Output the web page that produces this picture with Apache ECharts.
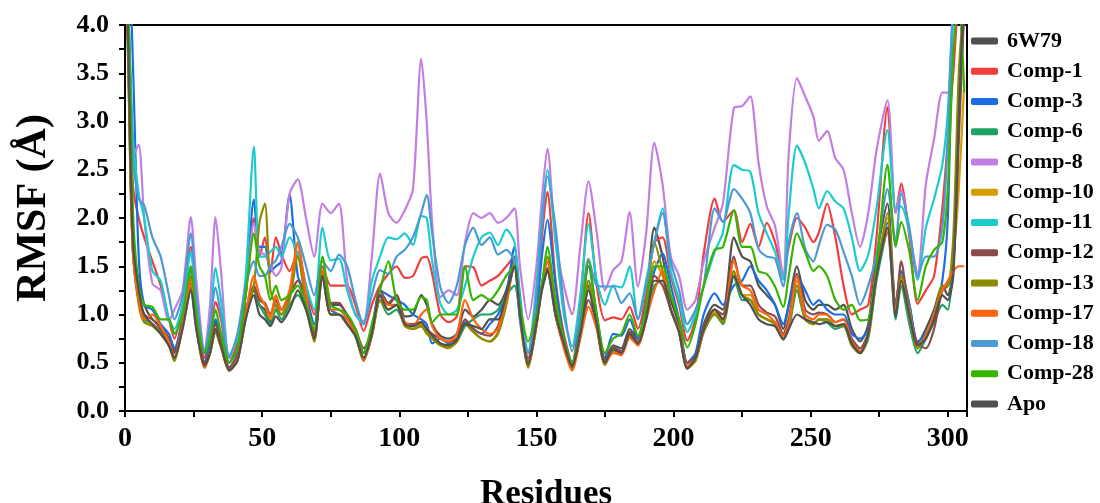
<!DOCTYPE html>
<html><head><meta charset="utf-8">
<script src="https://cdn.jsdelivr.net/npm/echarts@6/dist/echarts.min.js"></script>
<style>html,body{margin:0;padding:0;background:#fff}#c{width:1100px;height:503px}</style>
</head><body><div id="c"></div>
<script>
const residues = [0,1,2,3,5,7,10,13,16,18,
21,24,26,29,31,33,35,38,41,44,
47,49,51,53,55,57,60,63,66,69,
72,75,78,81,84,87,90,93,96,99,
102,105,108,110,112,115,118,121,124,127,
130,133,136,139,142,144,147,150,152,154,
157,160,163,166,169,172,175,178,181,184,
187,190,193,196,199,202,205,208,211,215,
218,222,225,228,231,234,237,240,242,245,
248,251,253,256,259,262,265,268,271,274,
278,281,283,286,289,292,295,298,300,302,
304,306];

const w6W79 = [4.5,4.0,2.6,1.7,1.35,1.1,0.95,0.88,0.75,0.62,
0.95,1.32,0.92,0.5,0.65,0.92,0.72,0.44,0.57,1.05,
1.25,1.1,1.05,0.92,1.05,1.0,1.2,1.35,1.15,0.8,
1.45,1.1,1.1,1.0,0.82,0.6,0.85,1.2,1.1,1.2,
0.98,1.0,1.2,1.1,0.9,0.78,0.75,0.8,1.05,0.98,
1.05,1.15,1.1,1.25,1.6,1.05,0.5,0.95,1.3,1.46,
1.05,0.72,0.48,0.85,1.3,0.95,0.52,0.68,0.65,0.85,
0.75,1.15,1.9,1.6,1.15,0.9,0.5,0.58,0.9,1.1,
1.05,1.8,1.6,1.55,1.3,1.2,1.1,0.85,1.1,1.5,
1.15,1.05,1.1,1.1,1.05,1.1,0.85,0.72,0.9,1.6,
2.15,1.1,1.45,1.1,0.7,0.85,1.05,1.3,1.2,1.5,
3.0,4.2];

const comp1 = [4.5,4.3,3.0,2.3,2.0,1.8,1.55,1.3,0.95,0.75,
1.1,1.7,1.1,0.55,0.8,1.13,0.95,0.5,0.7,1.2,
2.0,1.6,1.8,1.43,1.8,1.63,1.45,1.65,1.3,1.0,
1.5,1.3,1.3,1.3,1.1,0.83,1.1,1.3,1.42,1.5,
1.38,1.4,1.58,1.6,1.42,1.0,0.92,0.98,1.5,1.49,
1.3,1.35,1.4,1.5,1.6,1.1,0.55,1.0,1.8,2.27,
1.35,0.8,0.5,1.1,2.05,1.3,0.94,0.97,0.95,1.08,
0.85,1.2,1.75,1.8,1.4,1.1,0.73,0.95,1.63,2.2,
1.96,2.08,1.75,1.94,1.7,1.95,1.75,1.42,1.7,2.0,
1.9,1.75,1.85,2.15,1.8,1.3,1.0,1.05,1.1,1.8,
3.15,2.05,2.36,1.8,1.11,1.25,1.4,2.1,2.8,3.5,
4.3,4.5];

const comp3 = [4.5,4.5,4.3,3.5,1.6,1.1,1.05,0.9,0.8,0.65,
0.95,1.45,1.0,0.5,0.7,0.95,0.8,0.45,0.6,1.2,
2.19,1.7,1.7,1.45,1.5,1.55,2.24,1.4,1.2,0.9,
1.4,1.05,1.0,0.95,0.85,0.6,0.85,1.25,1.2,1.15,
1.1,1.0,0.95,0.9,0.7,0.75,0.7,0.8,0.92,0.85,
0.8,0.9,1.0,1.2,1.7,1.2,0.5,1.0,1.6,1.98,
1.3,0.75,0.5,0.9,1.5,1.0,0.55,0.8,0.78,0.95,
0.75,1.1,1.45,1.63,1.3,0.95,0.5,0.6,1.0,1.22,
1.1,1.3,1.35,1.5,1.35,1.25,1.1,0.9,1.1,1.4,
1.25,1.1,1.15,1.05,1.0,1.0,0.8,0.75,0.85,1.5,
1.95,1.1,1.45,1.1,0.72,0.8,1.0,1.35,2.0,4.2,
4.5,4.5];

const comp6 = [4.5,3.8,2.4,1.6,1.15,0.95,0.9,0.82,0.68,0.55,
0.88,1.25,0.85,0.46,0.6,0.85,0.68,0.42,0.53,0.95,
1.3,1.1,1.0,0.9,1.05,0.95,1.1,1.2,1.05,0.78,
1.4,1.0,1.0,0.9,0.78,0.55,0.78,1.15,1.0,1.05,
0.9,0.85,0.88,0.82,0.78,0.7,0.68,0.72,0.88,0.95,
1.0,1.0,1.05,1.2,1.3,1.0,0.5,0.9,1.25,1.45,
0.98,0.68,0.45,0.78,1.28,0.88,0.5,0.62,0.6,0.8,
0.7,0.95,1.3,1.35,1.05,0.82,0.46,0.55,0.82,1.0,
0.9,1.4,1.15,1.15,1.0,0.95,0.9,0.75,0.85,1.25,
0.95,0.9,0.95,0.92,0.85,0.88,0.68,0.6,0.75,1.35,
1.85,0.95,1.3,0.9,0.6,0.75,0.92,1.1,1.05,1.6,
3.2,4.3];

const comp8 = [4.5,4.3,3.4,2.65,2.76,2.0,1.32,1.25,0.93,1.05,
1.25,2.01,1.35,0.62,1.1,2.01,1.45,0.55,0.78,1.25,
1.95,1.65,1.62,1.5,1.4,1.48,2.25,2.4,2.0,1.6,
2.15,2.05,2.15,1.35,1.0,0.93,1.6,2.46,2.05,1.95,
2.08,2.3,3.65,3.0,1.95,1.18,1.25,1.2,1.75,2.05,
2.0,2.05,1.95,2.0,2.1,1.5,0.95,1.5,2.2,2.72,
1.75,1.3,1.0,1.7,2.38,1.85,1.25,1.46,1.55,2.06,
1.29,1.84,2.78,2.35,1.6,1.4,1.05,1.15,1.55,1.9,
2.15,3.14,3.16,3.26,2.57,2.12,1.92,1.39,2.67,3.45,
3.26,3.05,2.8,2.9,2.62,2.5,2.05,1.7,2.05,2.7,
3.22,2.05,2.29,1.85,1.43,2.35,2.82,3.3,3.3,4.1,
4.5,4.5];

const comp10 = [4.5,3.9,2.5,1.6,1.15,0.92,0.9,0.8,0.68,0.52,
0.88,1.35,0.88,0.45,0.6,0.82,0.66,0.42,0.52,0.98,
1.3,1.15,1.1,0.95,1.1,1.0,1.2,1.72,1.15,0.72,
1.45,1.0,1.0,0.9,0.78,0.52,0.78,1.15,1.05,1.1,
0.9,0.85,0.9,0.82,0.76,0.68,0.65,0.72,0.9,0.82,
0.75,0.72,0.82,1.1,1.55,1.0,0.45,0.88,1.3,1.6,
1.0,0.68,0.42,0.78,1.35,0.88,0.48,0.62,0.6,0.78,
0.7,1.05,1.55,1.4,1.05,0.82,0.44,0.52,0.82,1.02,
0.92,1.45,1.2,1.2,1.0,0.95,0.92,0.75,0.88,1.35,
0.95,0.9,0.95,0.95,0.88,0.9,0.68,0.6,0.78,1.4,
2.0,1.05,1.4,1.05,0.65,0.78,1.0,1.25,1.3,1.6,
2.3,3.4];

const comp11 = [4.5,4.3,3.5,2.8,2.25,2.0,1.45,1.35,0.95,0.85,
1.1,1.65,1.1,0.62,0.9,1.48,1.15,0.58,0.75,1.4,
2.74,1.6,1.6,1.65,1.7,1.6,1.8,1.62,1.3,1.05,
1.9,1.56,1.58,1.25,1.0,0.9,1.35,1.6,1.8,1.78,
1.84,1.72,2.02,2.0,1.55,1.11,1.0,1.05,1.3,1.6,
1.8,1.85,1.72,1.88,1.75,1.15,0.62,1.3,2.0,2.5,
1.75,1.0,0.67,1.2,1.94,1.35,1.1,1.3,1.28,1.5,
0.95,1.35,1.75,2.1,1.45,1.15,0.82,1.0,1.29,1.65,
1.85,2.55,2.5,2.48,2.05,1.84,1.65,1.36,2.05,2.75,
2.57,2.3,2.1,2.28,2.17,2.1,1.8,1.45,1.62,2.1,
2.91,2.1,2.12,1.85,1.36,1.9,2.2,2.55,3.1,4.2,
4.5,4.5];

const comp12 = [4.5,4.0,2.7,1.75,1.2,1.0,0.95,0.85,0.72,0.6,
0.92,1.28,0.9,0.5,0.63,0.9,0.72,0.45,0.57,1.02,
1.3,1.15,1.12,1.0,1.15,1.05,1.2,1.35,1.15,0.78,
1.45,1.12,1.12,0.98,0.85,0.65,0.82,1.25,1.12,1.2,
0.92,0.9,0.92,0.85,0.8,0.75,0.72,0.75,0.95,0.85,
0.8,0.78,0.88,1.2,1.5,1.0,0.5,0.92,1.3,1.48,
1.0,0.72,0.48,0.8,1.15,0.9,0.52,0.66,0.62,0.82,
0.72,1.0,1.4,1.3,1.05,0.85,0.5,0.56,0.88,1.05,
1.0,1.6,1.3,1.3,1.1,1.02,0.98,0.8,0.95,1.42,
1.05,1.0,1.02,1.0,0.92,0.95,0.75,0.65,0.82,1.45,
1.9,1.05,1.55,1.0,0.7,0.65,0.85,1.25,1.3,1.5,
2.8,4.2];

const comp13 = [4.5,3.9,2.5,1.6,1.1,0.92,0.88,0.8,0.68,0.52,
0.88,1.4,0.88,0.45,0.6,0.82,0.66,0.42,0.53,1.0,
1.3,1.95,2.15,1.25,1.1,1.0,1.15,1.6,1.1,0.72,
1.4,1.0,1.0,0.9,0.78,0.52,0.78,1.15,1.05,1.1,
0.88,0.85,0.88,0.8,0.75,0.68,0.66,0.72,0.9,0.82,
0.75,0.72,0.8,1.1,1.55,0.95,0.45,0.88,1.3,1.6,
1.0,0.68,0.44,0.78,1.35,0.88,0.48,0.62,0.6,0.78,
0.7,1.1,1.75,1.45,1.05,0.82,0.45,0.52,0.82,1.0,
0.92,1.45,1.2,1.15,1.0,0.95,0.9,0.75,0.88,1.3,
0.95,0.9,0.95,0.95,0.88,0.88,0.68,0.6,0.78,1.4,
2.05,1.0,1.4,1.0,0.65,0.78,1.0,1.3,1.3,1.8,
3.5,4.3];

const comp17 = [4.5,3.9,2.4,1.6,1.15,0.95,1.0,0.88,0.72,0.55,
0.9,1.35,0.9,0.45,0.6,0.85,0.68,0.42,0.54,1.0,
1.4,1.2,1.1,0.98,1.2,1.05,1.25,1.75,1.2,0.75,
1.45,1.05,1.05,0.95,0.8,0.53,0.8,1.2,1.1,1.1,
0.92,0.88,1.0,1.05,0.88,0.75,0.72,0.8,1.15,0.95,
0.85,0.8,0.85,1.15,1.5,1.0,0.48,0.88,1.3,1.55,
1.0,0.65,0.42,0.75,1.08,0.85,0.5,0.6,0.58,0.76,
0.68,0.95,1.25,1.45,1.05,0.85,0.47,0.55,0.85,1.05,
0.95,1.55,1.3,1.25,1.05,1.0,0.92,0.78,0.9,1.4,
1.0,0.95,1.0,1.0,0.92,0.95,0.72,0.62,0.8,1.45,
1.85,1.05,1.35,1.0,0.68,0.78,1.0,1.25,1.35,1.45,
1.5,1.5];

const comp18 = [4.5,4.3,3.4,2.6,2.2,2.13,1.8,1.6,1.2,0.95,
1.2,1.84,1.2,0.6,0.9,1.28,1.0,0.55,0.8,1.3,
1.55,1.4,1.4,1.5,1.56,1.7,1.94,1.8,1.5,1.2,
1.55,1.45,1.62,1.5,1.15,0.9,1.2,1.46,1.42,1.6,
1.67,1.8,2.05,2.24,1.84,1.28,1.12,1.3,1.72,1.9,
1.72,1.8,1.62,1.67,1.55,0.94,0.6,1.2,1.9,2.43,
1.9,1.1,0.62,1.0,1.58,1.3,1.29,1.29,1.12,1.22,
0.95,1.3,1.75,2.05,1.55,1.25,0.9,1.05,1.3,2.1,
1.96,2.3,2.2,2.05,1.68,1.6,1.58,1.29,1.75,2.05,
1.68,1.55,1.72,1.93,1.88,1.65,1.4,1.1,1.3,1.62,
2.3,1.75,2.25,1.9,1.39,1.6,1.6,1.9,2.8,4.2,
4.5,4.5];

const comp28 = [4.5,4.3,3.3,2.0,1.3,1.1,1.08,0.95,0.95,0.8,
1.0,1.5,1.0,0.6,0.75,1.05,0.8,0.5,0.65,1.2,
1.84,1.5,1.4,1.15,1.3,1.15,1.2,1.3,1.1,0.85,
1.6,1.1,1.05,1.0,0.85,0.6,0.9,1.25,1.55,1.15,
1.05,1.05,1.18,1.15,0.92,1.0,1.0,1.0,1.5,1.15,
1.2,1.15,1.25,1.4,1.5,1.1,0.72,1.0,1.3,1.7,
1.15,0.75,0.5,0.85,1.55,1.0,0.6,0.75,0.8,1.0,
0.78,1.05,1.5,1.5,1.2,0.95,0.66,0.9,1.3,1.67,
1.7,2.08,1.7,1.7,1.45,1.42,1.29,1.08,1.4,1.84,
1.65,1.45,1.5,1.4,1.15,1.05,1.1,0.94,0.95,1.5,
2.55,1.7,1.96,1.65,1.15,1.5,1.67,1.75,2.3,3.7,
4.3,3.3];

const apo = [4.5,4.0,2.6,1.7,1.25,1.0,0.9,0.8,0.68,0.55,
0.85,1.25,0.85,0.47,0.6,0.85,0.68,0.42,0.52,0.95,
1.2,1.0,0.95,0.88,0.98,0.92,1.05,1.25,1.05,0.75,
1.4,1.0,1.0,0.9,0.78,0.55,0.8,1.2,1.05,1.1,
0.9,0.88,0.92,0.85,0.78,0.7,0.68,0.74,0.9,0.88,
0.85,0.95,0.95,1.2,1.5,1.0,0.48,0.9,1.25,1.45,
1.0,0.7,0.46,0.8,1.25,0.9,0.5,0.64,0.6,0.8,
0.7,0.95,1.35,1.35,1.05,0.82,0.44,0.55,0.85,1.05,
0.95,1.4,1.2,1.1,0.95,0.9,0.88,0.74,0.85,1.0,
0.95,0.92,0.9,0.92,0.88,0.9,0.7,0.6,0.8,1.4,
1.9,0.98,1.35,1.0,0.68,0.75,0.95,1.2,1.15,1.4,
3.0,4.5];

const seriesNames = ['6W79','Comp-1','Comp-3','Comp-6','Comp-8','Comp-10','Comp-11','Comp-12','Comp-13','Comp-17','Comp-18','Comp-28','Apo'];
const seriesValues = [w6W79,comp1,comp3,comp6,comp8,comp10,comp11,comp12,comp13,comp17,comp18,comp28,apo];
const seriesColors = ['#505050','#f23d3d','#1a6ee0','#1ea362','#c27ee2','#d59c00','#1ccbcd','#8a4b4b','#8c8a00','#ff6410','#4b9ad4','#35b400','#505050'];

const FONT = '"Liberation Serif","Times New Roman",serif';
const chart = echarts.init(document.getElementById('c'));
chart.setOption({
  animation: false,
  backgroundColor: '#fff',
  grid: {left: 125, right: 133, top: 25, bottom: 92, containLabel: false, outerBoundsMode: 'none',
    show: true, borderColor: '#000', borderWidth: 2, backgroundColor: 'transparent'},
  legend: {
    orient: 'vertical', left: 966, top: 24, itemWidth: 27, itemHeight: 7, itemGap: 6.25,
    icon: 'roundRect',
    textStyle: {fontFamily: FONT, fontWeight: 'bold', fontSize: 22, color: '#000', lineHeight: 24, padding: [0,0,0,4]},
    data: seriesNames
  },
  xAxis: {
    type: 'value', min: 0, max: 307, interval: 25,
    name: 'Residues', nameLocation: 'middle', nameGap: 66,
    nameTextStyle: {fontFamily: FONT, fontWeight: 'bold', fontSize: 35, color: '#000'},
    axisLine: {lineStyle: {color: '#000', width: 2}},
    axisTick: {length: 6, lineStyle: {color: '#000', width: 2}},
    axisLabel: {fontFamily: FONT, fontWeight: 'bold', fontSize: 28, color: '#000', margin: 14,
      formatter: v => (v % 50 === 0 ? String(v) : '')},
    splitLine: {show: false}
  },
  yAxis: {
    type: 'value', min: 0, max: 4, interval: 0.25,
    name: 'RMSF (Å)', nameLocation: 'middle', nameGap: 70, nameRotate: 90,
    nameTextStyle: {fontFamily: FONT, fontWeight: 'bold', fontSize: 42, color: '#000', padding: [0,0,0,20]},
    axisLine: {show: true, lineStyle: {color: '#000', width: 2}},
    axisTick: {show: true, length: 6, lineStyle: {color: '#000', width: 2}},
    axisLabel: {fontFamily: FONT, fontWeight: 'bold', fontSize: 26, color: '#000', margin: 16,
      formatter: v => (Math.round(v * 100) % 50 === 0 ? v.toFixed(1) : '')},
    splitLine: {show: false}
  },
  series: seriesNames.map((n, i) => ({
    name: n, type: 'line', showSymbol: false, smooth: 0.25, clip: true,
    color: seriesColors[i],
    lineStyle: {width: 2.2, color: seriesColors[i]},
    data: residues.map((r, j) => [r, seriesValues[i][j]])
  }))
});
</script></body></html>
